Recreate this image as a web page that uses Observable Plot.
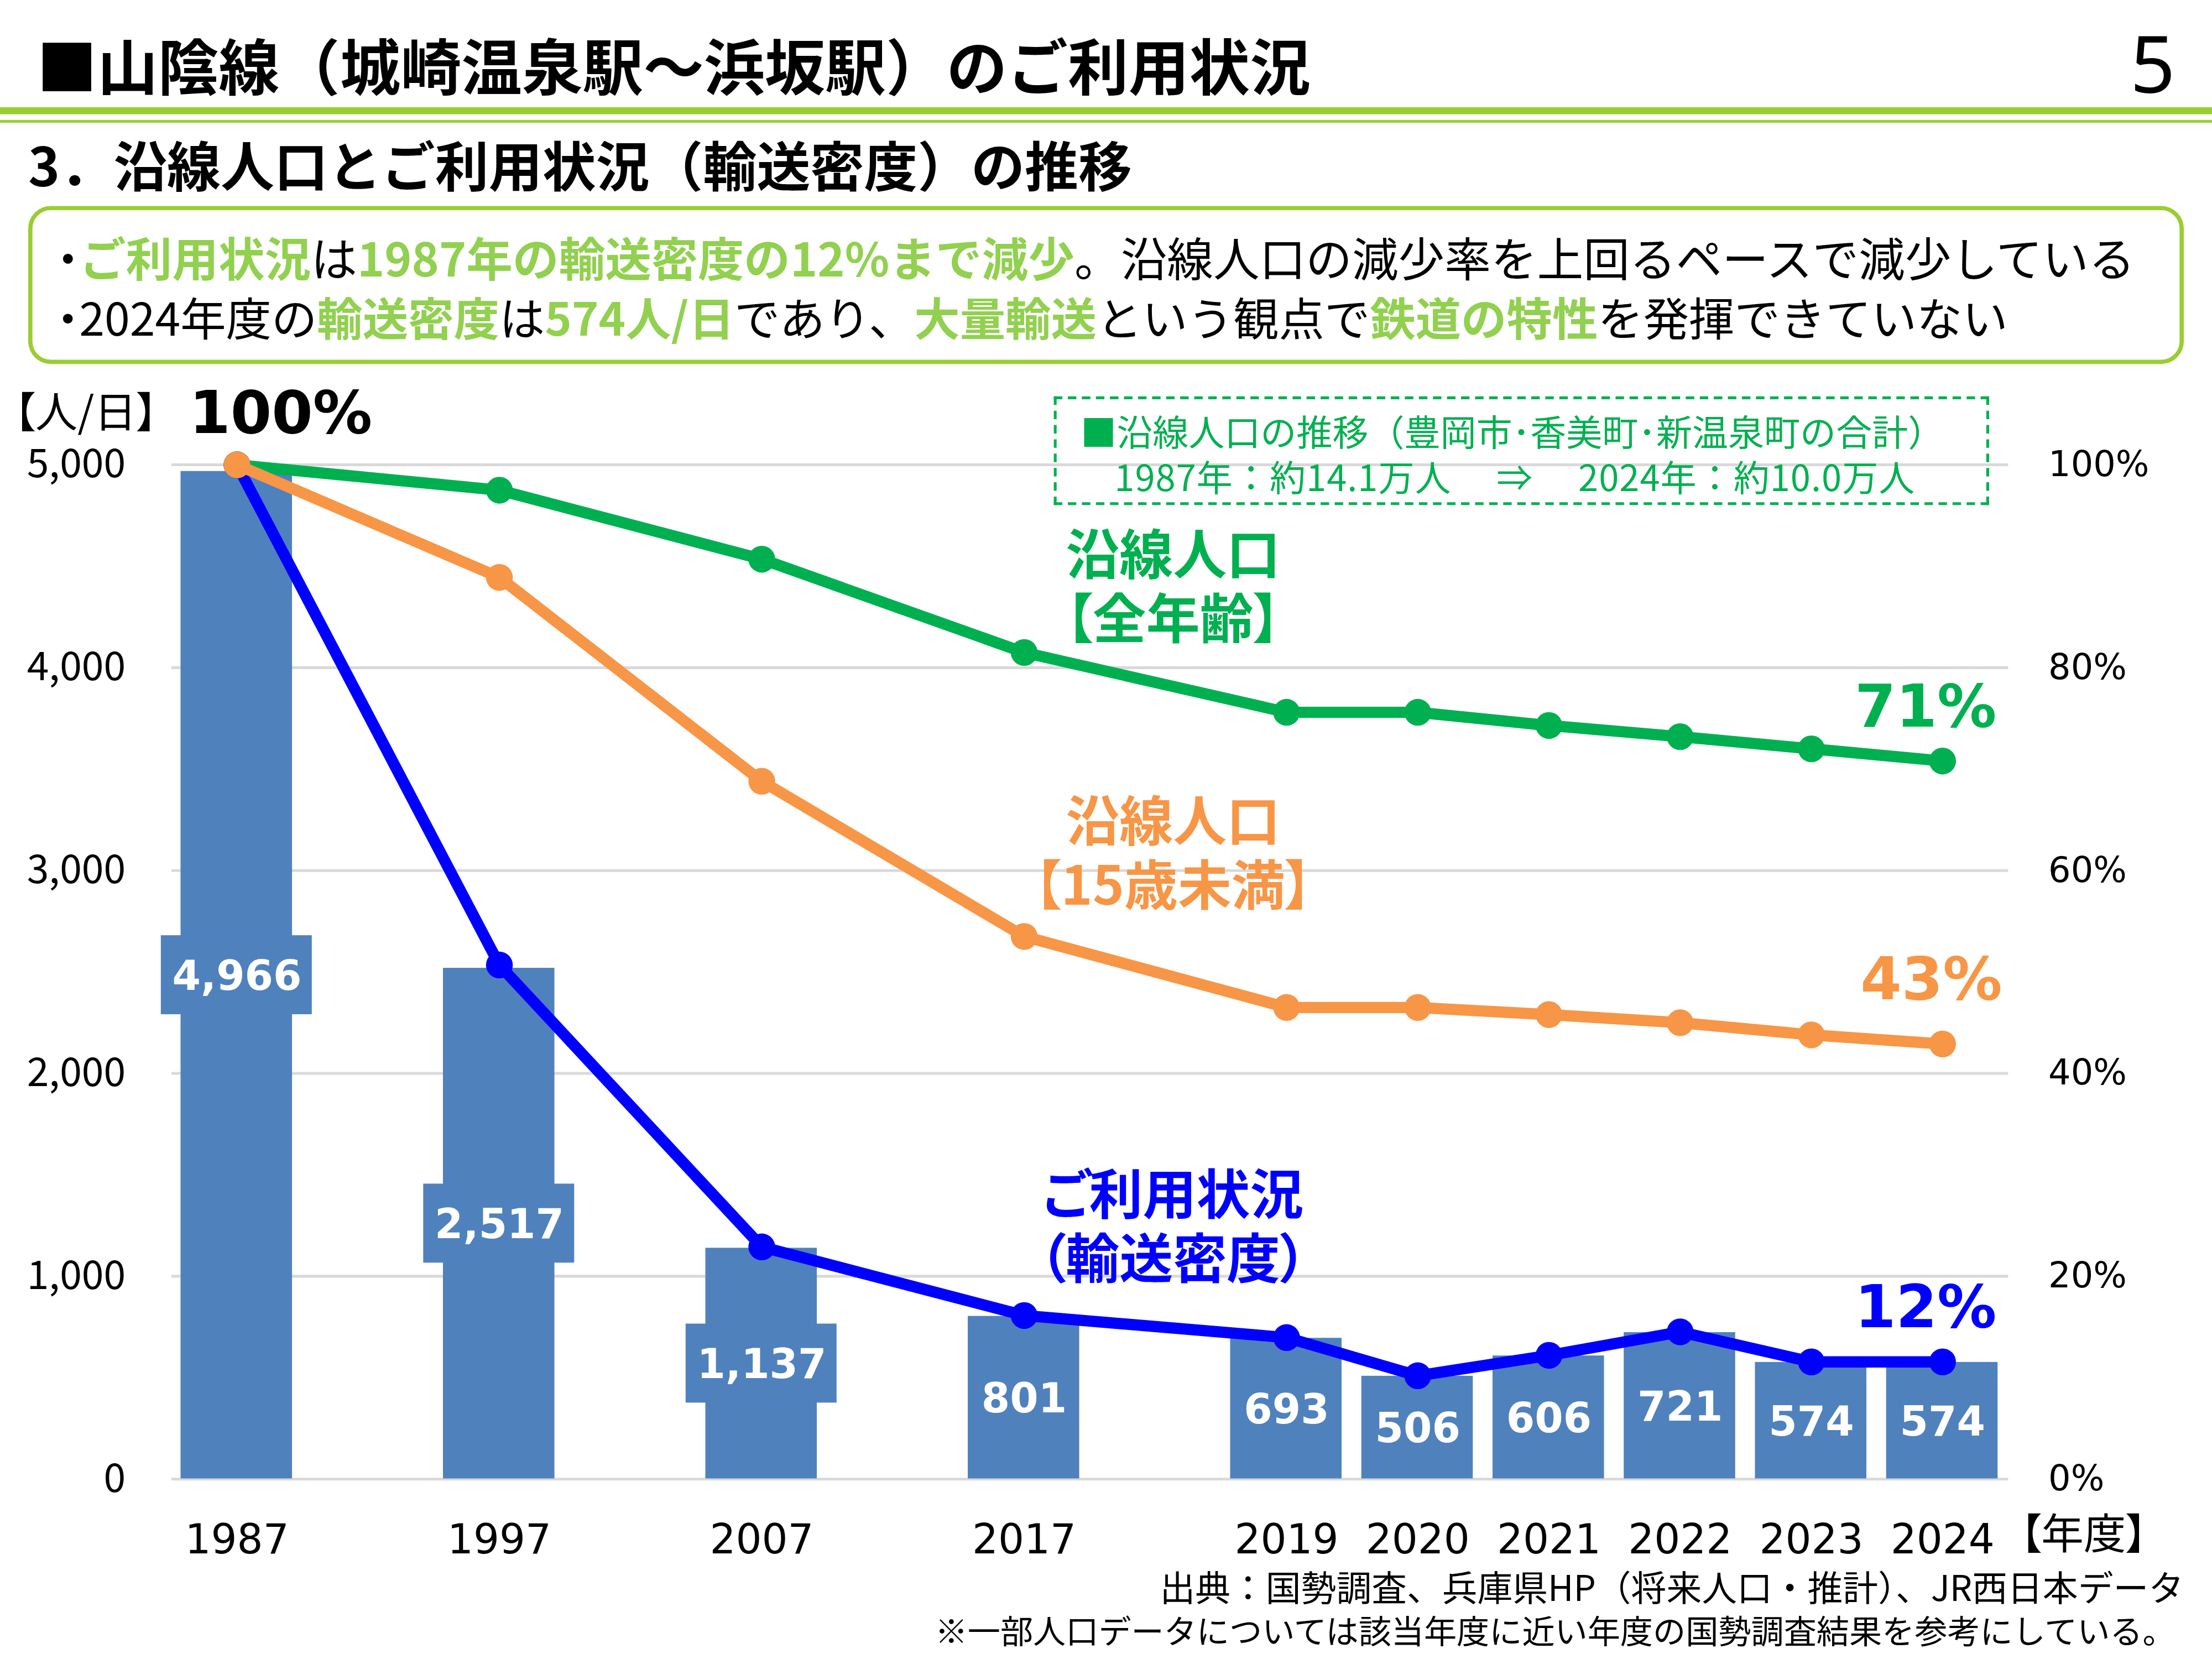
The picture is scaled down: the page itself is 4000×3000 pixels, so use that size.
<!DOCTYPE html>
<html><head><meta charset="utf-8">
<script src="https://cdn.jsdelivr.net/npm/d3@7"></script>
<script src="https://cdn.jsdelivr.net/npm/@observablehq/plot@0.6"></script>
<style>
html,body{margin:0;padding:0;background:#fff;}
body{width:4000px;height:3000px;overflow:hidden;}
#page{position:absolute;left:0;top:0;width:1568px;height:1176px;transform-origin:0 0;transform:scale(2.5510204);font-family:"Noto Sans CJK JP","Noto Sans",sans-serif;color:#000;overflow:hidden;background:#fff;}
.abs{position:absolute;white-space:pre;}
.g{color:#92D050;font-weight:700;}
.palt{font-feature-settings:"palt" 1;}
#chart{position:absolute;left:0;top:260px;}
#chart svg text{font-feature-settings:"palt" 1;}
</style></head>
<body>
<div id="page">
  <div class="abs" style="left:26px;top:17px;font-size:43px;line-height:56px;font-weight:700;">■山陰線（城崎温泉駅～浜坂駅）のご利用状況</div>
  <div class="abs" style="right:26px;top:8px;font-size:56px;line-height:72px;font-family:'Noto Sans',sans-serif;">5</div>
  <div class="abs" style="left:0;top:76px;width:1568px;height:5px;background:#9ACD32;"></div>
  <div class="abs" style="left:0;top:84.5px;width:1568px;height:2px;background:#9ACD32;"></div>
  <div class="abs" style="left:20px;top:91px;font-size:38px;line-height:50px;font-weight:700;">3．沿線人口とご利用状況（輸送密度）の推移</div>
  <div class="abs" style="left:20px;top:146px;width:1528px;height:112px;box-sizing:border-box;border:3px solid #9ACD32;border-radius:16px;"></div>
  <div class="abs" style="left:40px;top:160px;font-size:32.8px;line-height:44px;"><span class="palt">・</span><span class="g">ご利用状況</span>は<span class="g">1987年の輸送密度の12%まで減少</span>。沿線人口の減少率を上回るペースで減少している</div>
  <div class="abs" style="left:40px;top:202px;font-size:32.3px;line-height:44px;"><span class="palt">・</span>2024年度の<span class="g">輸送密度</span>は<span class="g">574人/日</span>であり、<span class="g">大量輸送</span>という観点で<span class="g">鉄道の特性</span>を発揮できていない</div>
  <div id="chart"></div>
  <div class="abs palt" style="left:10px;top:275px;font-size:30px;line-height:30px;">【人/日】</div>
  <div class="abs palt" style="left:1432px;top:1070px;font-size:30px;line-height:30px;">【年度】</div>
  <div class="abs" style="left:747px;top:281px;width:663px;height:77px;box-sizing:border-box;border:2px dashed #00B050;"></div>
  <div class="abs" style="left:766px;top:289px;font-size:25.5px;line-height:32px;color:#00B050;">■沿線人口の推移（豊岡市･香美町･新温泉町の合計）</div>
  <div class="abs" style="left:790px;top:321px;font-size:25.5px;line-height:32px;color:#00B050;letter-spacing:0.4px;">1987年：約14.1万人　 ⇒ 　2024年：約10.0万人</div>
  <div class="abs" style="right:20px;top:1109px;font-size:25px;line-height:30px;">出典：国勢調査、兵庫県HP（将来人口・推計）、JR西日本データ</div>
  <div class="abs" style="right:26px;top:1140px;font-size:23.2px;line-height:30px;">※一部人口データについては該当年度に近い年度の国勢調査結果を参考にしている。</div>
</div>
<script>
// ---- data ----
const years = ["1987","1997","2007","2017","2019","2020","2021","2022","2023","2024"];
const density = [4966, 2517, 1137, 801, 693, 506, 606, 721, 574, 574];           // 輸送密度 (人/日)
const popAllPct = [100, 97.5, 90.7, 81.5, 75.6, 75.6, 74.3, 73.2, 72.0, 70.8];   // 沿線人口【全年齢】(%)
const popYouthPct = [100, 88.9, 68.8, 53.5, 46.5, 46.5, 45.8, 45.0, 43.8, 42.9]; // 沿線人口【15歳未満】(%)
const yTicks = [0, 1000, 2000, 3000, 4000, 5000];
const pctTicks = [0, 20, 40, 60, 80, 100];
const seriesNames = {all: "沿線人口\n【全年齢】", youth: "沿線人口\n【15歳未満】", use: "ご利用状況\n（輸送密度）"};

// ---- derived ----
const yMax = d3.max(yTicks);
const pctToY = p => p / 100 * yMax;
// band domain: consecutive years adjacent, multi-year gaps get one spacer slot
const slots = [];
years.forEach((y, i) => {
  slots.push(y);
  if (i < years.length - 1 && +years[i + 1] - +y > 1) slots.push("_" + y);
});
const bars = years.map((y, i) => ({slot: y, value: density[i], label: d3.format(",")(density[i])}));
const usePct = density.map(v => v / density[0] * 100);
const mk = arr => years.map((y, i) => ({slot: y, pct: arr[i], v: pctToY(arr[i])}));
const allPts = mk(popAllPct), youthPts = mk(popYouthPct), usePts = mk(usePct);
const last = a => [a[a.length - 1]];

const C = {bar: "#4F81BD", all: "#00B050", youth: "#F79646", use: "#0000FF", grid: "#D9D9D9"};
const pctLabel = d => Math.round(d.pct) + "%";
const nameStyle = {frameAnchor: "top-left", textAnchor: "middle", lineAnchor: "middle", fontSize: 38, fontWeight: "bold", fontFamily: "Noto Sans CJK JP", lineHeight: 1.2};

const plot = Plot.plot({
  width: 1568, height: 850,
  marginTop: 69, marginBottom: 62, marginLeft: 121.5, marginRight: 144.5,
  style: {background: "transparent", overflow: "visible", maxWidth: "none"},
  x: {type: "band", domain: slots, paddingInner: 0.15, paddingOuter: 0.075, align: 0.5, label: null},
  y: {domain: [0, yMax], label: null},
  marks: [
    Plot.gridY(yTicks, {stroke: C.grid, strokeOpacity: 1, strokeWidth: 2}),
    Plot.axisY({anchor: "left", ticks: yTicks, tickSize: 0, tickPadding: 33, tickFormat: d3.format(","), label: null,
      fontSize: 28, fontFamily: "Noto Sans CJK JP", fill: "#000"}),
    Plot.axisY({anchor: "right", ticks: pctTicks.map(pctToY), tickSize: 0, tickPadding: 28, tickFormat: d => Math.round(d / yMax * 100) + "%", label: null,
      fontSize: 25, fontFamily: "DejaVu Sans", fill: "#000"}),
    Plot.axisX({anchor: "bottom", tickSize: 0, tickPadding: 32, tickFormat: d => d.startsWith("_") ? "" : d, label: null,
      fontSize: 29, fontFamily: "DejaVu Sans", fill: "#000"}),
    Plot.barY(bars, {x: "slot", y: "value", fill: C.bar}),
    Plot.barY(bars.filter(d => d.label.length > 3), {x: "slot", y1: d => d.value / 2, y2: d => d.value / 2, fill: C.bar,
      insetLeft: -14, insetRight: -14, insetTop: -28, insetBottom: -28}),
    Plot.text(bars, {x: "slot", y: d => d.value / 2, text: "label", fill: "#fff", fontSize: 29, fontWeight: "bold", fontFamily: "DejaVu Sans", dy: 1}),
    Plot.line(allPts, {x: "slot", y: "v", stroke: C.all, strokeWidth: 8}),
    Plot.dot(allPts, {x: "slot", y: "v", fill: C.all, r: 9.5}),
    Plot.line(usePts, {x: "slot", y: "v", stroke: C.use, strokeWidth: 8}),
    Plot.dot(usePts, {x: "slot", y: "v", fill: C.use, r: 9.5}),
    Plot.line(youthPts, {x: "slot", y: "v", stroke: C.youth, strokeWidth: 8}),
    Plot.dot(youthPts, {x: "slot", y: "v", fill: C.youth, r: 9.5}),
    // start / end percentages
    Plot.text([youthPts[0]], {x: "slot", y: "v", text: pctLabel, dx: 31, dy: -36, fill: "#000", fontSize: 42, fontWeight: "bold", fontFamily: "DejaVu Sans"}),
    Plot.text(last(allPts), {x: "slot", y: "v", text: pctLabel, dx: -12, dy: -38, fill: C.all, fontSize: 42, fontWeight: "bold", fontFamily: "DejaVu Sans"}),
    Plot.text(last(youthPts), {x: "slot", y: "v", text: pctLabel, dx: -8, dy: -45, fill: C.youth, fontSize: 42, fontWeight: "bold", fontFamily: "DejaVu Sans"}),
    Plot.text(last(usePts), {x: "slot", y: "v", text: pctLabel, dx: -12, dy: -38, fill: C.use, fontSize: 42, fontWeight: "bold", fontFamily: "DejaVu Sans"}),
    // series names
    Plot.text([seriesNames.all], {...nameStyle, dx: 709.5, dy: 85.5, fill: C.all}),
    Plot.text([seriesNames.youth], {...nameStyle, dx: 709.5, dy: 274.5, fill: C.youth}),
    Plot.text([seriesNames.use], {...nameStyle, dx: 709.5, dy: 539, fill: C.use})
  ]
});
document.getElementById("chart").appendChild(plot);
</script>
</body></html>
